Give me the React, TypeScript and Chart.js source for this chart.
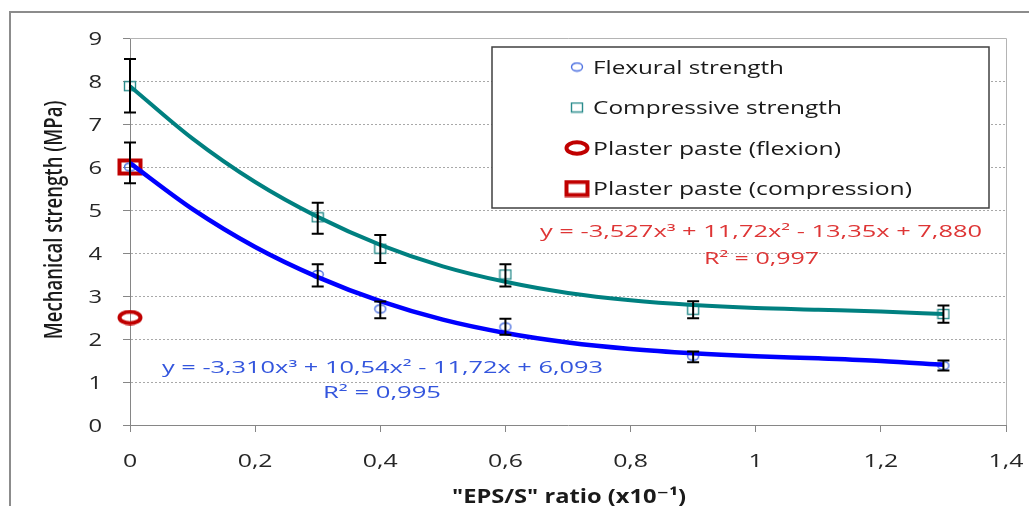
import React, { useEffect, useRef } from "react";
import { Chart, registerables } from "chart.js";

Chart.register(...registerables);

// ---------- data ----------
const ratioX = [0, 0.3, 0.4, 0.6, 0.9, 1.3];
const flexural = [6.0, 3.5, 2.7, 2.28, 1.6, 1.38];
const flexuralLow = [5.62, 3.22, 2.48, 2.1, 1.46, 1.27];
const flexuralHigh = [6.57, 3.74, 2.87, 2.47, 1.71, 1.5];
const compressive = [7.88, 4.83, 4.1, 3.5, 2.68, 2.58];
const compressiveLow = [7.27, 4.45, 3.77, 3.22, 2.48, 2.38];
const compressiveHigh = [8.51, 5.17, 4.42, 3.74, 2.88, 2.78];

const plasterX = [0];
const plasterFlexion = [2.5];
const plasterCompression = [6.0];

const trendX = [0, 0.1, 0.2, 0.3, 0.4, 0.5, 0.6, 0.7, 0.8, 0.9, 1.0, 1.1, 1.2, 1.3];
const flexTrend = [6.09, 5.02, 4.14, 3.44, 2.88, 2.45, 2.14, 1.92, 1.77, 1.67, 1.6, 1.55, 1.49, 1.4];
const compTrend = [7.88, 6.66, 5.65, 4.84, 4.19, 3.69, 3.33, 3.07, 2.9, 2.79, 2.72, 2.68, 2.64, 2.58];

const xTicks = [0, 0.2, 0.4, 0.6, 0.8, 1, 1.2, 1.4];
const xTickLabels = ["0", "0,2", "0,4", "0,6", "0,8", "1", "1,2", "1,4"];
const yTicks = [0, 1, 2, 3, 4, 5, 6, 7, 8, 9];
const yTickLabels = ["0", "1", "2", "3", "4", "5", "6", "7", "8", "9"];

const legendLabels = [
  "Flexural strength",
  "Compressive strength",
  "Plaster paste (flexion)",
  "Plaster paste (compression)",
];
const flexEquation = "y = -3,310x³ + 10,54x² - 11,72x + 6,093";
const flexR2 = "R² = 0,995";
const compEquation = "y = -3,527x³ + 11,72x² - 13,35x + 7,880";
const compR2 = "R² = 0,997";
const xTitle = '"EPS/S" ratio (x10⁻¹)';
const yTitle = "Mechanical strength (MPa)";

const FONT = '"Open Sans", "DejaVu Sans", sans-serif';

function toPoints(xs: number[], ys: number[]) {
  return xs.map((x, i) => ({ x, y: ys[i] }));
}

function makeMarker(w: number, h: number, draw: (g: CanvasRenderingContext2D) => void) {
  const c = document.createElement("canvas");
  c.width = w;
  c.height = h;
  const g = c.getContext("2d") as CanvasRenderingContext2D;
  draw(g);
  return c;
}

function fitText(
  ctx: CanvasRenderingContext2D,
  text: string,
  x: number,
  y: number,
  targetW: number,
  font: string,
  color: string,
  align: "left" | "center" | "right"
) {
  ctx.save();
  ctx.font = font;
  const w = ctx.measureText(text).width;
  const sx = targetW / w;
  const left = align === "left" ? x : align === "center" ? x - targetW / 2 : x - targetW;
  ctx.fillStyle = color;
  ctx.textAlign = "left";
  ctx.textBaseline = "alphabetic";
  ctx.translate(left, y);
  ctx.scale(sx, 1);
  ctx.fillText(text, 0, 0);
  ctx.restore();
}

function stretchText(
  ctx: CanvasRenderingContext2D,
  text: string,
  x: number,
  y: number,
  sx: number,
  font: string,
  color: string,
  align: "left" | "center" | "right"
) {
  ctx.save();
  ctx.font = font;
  const w = ctx.measureText(text).width * sx;
  const left = align === "left" ? x : align === "center" ? x - w / 2 : x - w;
  ctx.fillStyle = color;
  ctx.textAlign = "left";
  ctx.textBaseline = "alphabetic";
  ctx.translate(left, y);
  ctx.scale(sx, 1);
  ctx.fillText(text, 0, 0);
  ctx.restore();
}

export default function App() {
  const ref = useRef<HTMLCanvasElement | null>(null);

  useEffect(() => {
    const canvas = ref.current;
    if (!canvas) return;

    const blueCircle = makeMarker(14, 11, (g) => {
      g.strokeStyle = "#4a6ee0";
      g.lineWidth = 1.4;
      g.beginPath();
      g.ellipse(7, 5.5, 5.5, 4, 0, 0, Math.PI * 2);
      g.stroke();
    });
    const tealSquare = makeMarker(14, 12, (g) => {
      g.strokeStyle = "#2b8c8c";
      g.lineWidth = 1.4;
      g.strokeRect(1.5, 1.5, 11, 9);
    });
    const redCircle = makeMarker(26, 16, (g) => {
      g.strokeStyle = "#c00000";
      g.lineWidth = 4;
      g.beginPath();
      g.ellipse(13, 8, 10.5, 5.8, 0, 0, Math.PI * 2);
      g.stroke();
    });
    const redSquare = makeMarker(26, 18, (g) => {
      g.strokeStyle = "#c00000";
      g.lineWidth = 4;
      g.strokeRect(2.5, 2.5, 21, 13);
    });

    const decor = {
      id: "decor",
      beforeDatasetsDraw(chart: any) {
        const ctx = chart.ctx as CanvasRenderingContext2D;
        const { left, right, top, bottom } = chart.chartArea;
        const ys = chart.scales.y;
        ctx.save();
        // outer frame
        ctx.strokeStyle = "#8c8c8c";
        ctx.lineWidth = 2;
        ctx.strokeRect(10, 12, 1100, 600);
        // dotted grid lines
        ctx.strokeStyle = "#a8a8a8";
        ctx.lineWidth = 1;
        ctx.setLineDash([2, 2]);
        yTicks.forEach((v) => {
          if (v === yTicks[0] || v === yTicks[yTicks.length - 1]) return;
          const py = Math.round(ys.getPixelForValue(v)) + 0.5;
          ctx.beginPath();
          ctx.moveTo(left + 1, py);
          ctx.lineTo(right, py);
          ctx.stroke();
        });
        ctx.setLineDash([]);
        // plot area top & right border
        ctx.strokeStyle = "#b4b4b4";
        ctx.beginPath();
        ctx.moveTo(left, Math.round(top) + 0.5);
        ctx.lineTo(Math.round(right) + 0.5, Math.round(top) + 0.5);
        ctx.lineTo(Math.round(right) + 0.5, bottom);
        ctx.stroke();
        ctx.restore();
      },
      afterDatasetsDraw(chart: any) {
        const ctx = chart.ctx as CanvasRenderingContext2D;
        const xs = chart.scales.x;
        const ys = chart.scales.y;
        ctx.save();
        // error bars
        ctx.strokeStyle = "#000000";
        ctx.lineWidth = 2;
        const drawBar = (x: number, lo: number, hi: number) => {
          const px = xs.getPixelForValue(x);
          const p1 = ys.getPixelForValue(lo);
          const p2 = ys.getPixelForValue(hi);
          ctx.beginPath();
          ctx.moveTo(px, p1);
          ctx.lineTo(px, p2);
          ctx.moveTo(px - 6, p1);
          ctx.lineTo(px + 6, p1);
          ctx.moveTo(px - 6, p2);
          ctx.lineTo(px + 6, p2);
          ctx.stroke();
        };
        ratioX.forEach((x, i) => {
          drawBar(x, flexuralLow[i], flexuralHigh[i]);
          drawBar(x, compressiveLow[i], compressiveHigh[i]);
        });

        // tick labels
        const tickFont = `18px ${FONT}`;
        xTicks.forEach((v, i) => {
          stretchText(ctx, xTickLabels[i], xs.getPixelForValue(v), 467, 1.38, tickFont, "#262626", "center");
        });
        yTicks.forEach((v, i) => {
          stretchText(ctx, yTickLabels[i], 102, ys.getPixelForValue(v) + 6.5, 1.32, tickFont, "#262626", "right");
        });

        // axis titles
        fitText(ctx, xTitle, 569, 502.5, 234, `bold 20px ${FONT}`, "#1a1a1a", "center");
        ctx.save();
        ctx.translate(62.3, 220);
        ctx.rotate(-Math.PI / 2);
        ctx.font = `600 20px ${FONT}`;
        const tw = ctx.measureText(yTitle).width;
        ctx.scale(238.6 / tw, 1.22);
        ctx.fillStyle = "#1a1a1a";
        ctx.textAlign = "center";
        ctx.textBaseline = "alphabetic";
        ctx.fillText(yTitle, 0, 0);
        ctx.restore();

        // trend equations
        const eqFont = `16px ${FONT}`;
        fitText(ctx, compEquation, 540, 236.5, 442, eqFont, "#de3535", "left");
        fitText(ctx, compR2, 704, 263.5, 115, eqFont, "#de3535", "left");
        fitText(ctx, flexEquation, 162, 372.5, 441, eqFont, "#3355dd", "left");
        fitText(ctx, flexR2, 323, 397.5, 118, eqFont, "#3355dd", "left");

        // legend
        ctx.fillStyle = "#ffffff";
        ctx.fillRect(492, 47, 497, 161);
        ctx.strokeStyle = "#404040";
        ctx.lineWidth = 1.5;
        ctx.strokeRect(492, 47, 497, 161);
        const markers = [blueCircle, tealSquare, redCircle, redSquare];
        const baselines = [73.5, 114, 154.5, 195];
        const widths = [191, 249, 248, 319];
        legendLabels.forEach((t, i) => {
          const m = markers[i];
          const cy = baselines[i] - 6.5;
          ctx.drawImage(m, 577 - m.width / 2, cy - m.height / 2);
          fitText(ctx, t, 593, baselines[i], widths[i], `19px ${FONT}`, "#1a1a1a", "left");
        });
        ctx.restore();
      },
    };

    const chart = new Chart(canvas, {
      type: "scatter",
      data: {
        datasets: [
          {
            label: "Plaster paste (flexion)",
            data: toPoints(plasterX, plasterFlexion),
            pointStyle: redCircle as any,
            showLine: false,
            order: 6,
            clip: false as any,
          },
          {
            label: "Plaster paste (compression)",
            data: toPoints(plasterX, plasterCompression),
            pointStyle: redSquare as any,
            showLine: false,
            order: 5,
            clip: false as any,
          },
          {
            label: "Flexural strength",
            data: toPoints(ratioX, flexural),
            pointStyle: blueCircle as any,
            showLine: false,
            order: 4,
            clip: false as any,
          },
          {
            label: "Compressive strength",
            data: toPoints(ratioX, compressive),
            pointStyle: tealSquare as any,
            showLine: false,
            order: 3,
            clip: false as any,
          },
          {
            label: "Compressive trend",
            data: toPoints(trendX, compTrend),
            showLine: true,
            borderColor: "#008080",
            borderWidth: 4,
            pointRadius: 0,
            cubicInterpolationMode: "monotone",
            order: 2,
            clip: false as any,
          },
          {
            label: "Flexural trend",
            data: toPoints(trendX, flexTrend),
            showLine: true,
            borderColor: "#0000ff",
            borderWidth: 4.5,
            pointRadius: 0,
            cubicInterpolationMode: "monotone",
            order: 1,
            clip: false as any,
          },
        ],
      },
      options: {
        animation: false,
        responsive: false,
        devicePixelRatio: 1,
        events: [],
        layout: { padding: { left: 0, top: 38, right: 23, bottom: 0 } },
        plugins: { legend: { display: false }, tooltip: { enabled: false }, title: { display: false } },
        scales: {
          x: {
            type: "linear",
            min: 0,
            max: 1.4,
            afterFit: (s: any) => {
              s.height = 81;
            },
            afterBuildTicks: (s: any) => {
              s.ticks = xTicks.map((v) => ({ value: v }));
            },
            ticks: { display: false, autoSkip: false },
            grid: { drawOnChartArea: false, drawTicks: true, tickLength: 7, color: "#868686", lineWidth: 1 },
            border: { display: true, color: "#868686", width: 1 },
          },
          y: {
            type: "linear",
            min: 0,
            max: 9,
            afterFit: (s: any) => {
              s.width = 130;
            },
            afterBuildTicks: (s: any) => {
              s.ticks = yTicks.map((v) => ({ value: v }));
            },
            ticks: { display: false, autoSkip: false },
            grid: { drawOnChartArea: false, drawTicks: true, tickLength: 7, color: "#868686", lineWidth: 1 },
            border: { display: true, color: "#868686", width: 1 },
          },
        },
      } as any,
      plugins: [decor],
    });

    return () => chart.destroy();
  }, []);

  return (
    <div style={{ position: "absolute", left: 0, top: 0, width: 1029, height: 506, background: "#ffffff" }}>
      <canvas ref={ref} width={1029} height={506} style={{ width: 1029, height: 506, display: "block" }} />
    </div>
  );
}
